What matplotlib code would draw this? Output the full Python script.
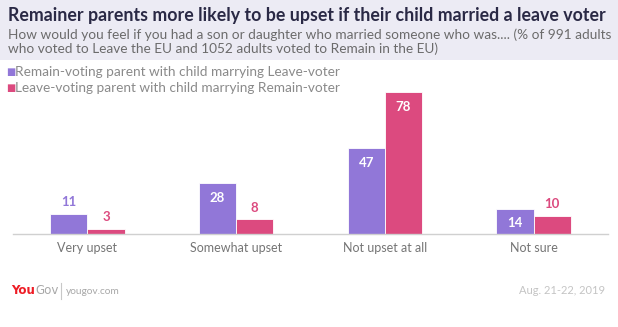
import matplotlib.pyplot as plt
import numpy as np
from matplotlib.patches import Rectangle

categories = ["Very upset", "Somewhat upset", "Not upset at all", "Not sure"]
remain_parent = [11, 28, 47, 14]
leave_parent = [3, 8, 78, 10]
series_names = ["Remain-voting parent with child marrying Leave-voter",
                "Leave-voting parent with child marrying Remain-voter"]

title = "Remainer parents more likely to be upset if their child married a leave voter"
subtitle = ("How would you feel if you had a son or daughter who married someone who was.... (% of 991 adults\n"
            "who voted to Leave the EU and 1052 adults voted to Remain in the EU)")
date_text = "Aug. 21-22, 2019"

PURPLE = "#9177d8"
PINK = "#dc4a7f"
FONT = "Lato"

fig = plt.figure(figsize=(6.18, 3.27), dpi=100)
fig.patch.set_facecolor("white")

# header band
fig.patches.append(Rectangle((0, 1 - 60 / 327), 1, 60 / 327, transform=fig.transFigure,
                             facecolor="#ecebf4", edgecolor="none", zorder=0))
fig.text(8 / 618, 1 - 15 / 327, title, fontsize=12.75, fontweight="bold", color="#2a2945",
         family=FONT, va="center", ha="left")
fig.text(8 / 618, 1 - 42 / 327, subtitle, fontsize=9.8, color="#6b6b6b", family=FONT,
         va="center", ha="left", linespacing=1.1)

ax = fig.add_axes([13 / 618, 1 - 234 / 327, 595 / 618, 0.4731])
x = np.arange(len(categories))
w = 0.25
bars = [
    ax.bar(x - w / 2, remain_parent, w, color=PURPLE, edgecolor="white", linewidth=0.6, label=series_names[0]),
    ax.bar(x + w / 2, leave_parent, w, color=PINK, edgecolor="white", linewidth=0.6, label=series_names[1]),
]
for cont, col in zip(bars, [PURPLE, PINK]):
    for rect in cont:
        v = rect.get_height()
        cx = rect.get_x() + rect.get_width() / 2
        if v >= 12:
            ax.text(cx, v - 8.2, f"{v:g}", ha="center", va="center", color="white",
                    fontsize=9.5, fontweight="bold", family=FONT)
        else:
            ax.text(cx, v + 6.5, f"{v:g}", ha="center", va="center", color=col,
                    fontsize=9.5, fontweight="bold", family=FONT)

ax.set_xlim(-0.5, 3.5)
ax.set_ylim(0, 85)
ax.set_yticks([])
ax.set_xticks(x)
ax.set_xticklabels(categories, fontsize=9.0, color="#757575", family=FONT)
ax.tick_params(axis="x", length=0, pad=6)
for s in ["top", "left", "right"]:
    ax.spines[s].set_visible(False)
ax.spines["bottom"].set_color("#d0d0d0")
ax.spines["bottom"].set_linewidth(1)
ax.set_facecolor("none")

# legend drawn as square markers plus text
for i, (name, col) in enumerate(zip(series_names, [PURPLE, PINK])):
    yy = 1 - (72 + 16 * i) / 327
    fig.text(6 / 618, yy, "\u25a0", fontsize=7, color=col, va="center", ha="left", family="DejaVu Sans")
    fig.text(15 / 618, yy, name, fontsize=9.8, color="#8a8a8a", va="center", ha="left", family=FONT)

# footer
yf = 1 - 291 / 327
t1 = fig.text(11 / 618, yf, "You", fontsize=8.6, fontweight="bold", color="#ee1c25",
              family="DejaVu Sans", va="center", ha="left")
fig.canvas.draw()
bb = t1.get_window_extent()
t2 = fig.text(bb.x1 / 618, yf, "Gov", fontsize=8.6, color="#a8a8a8",
              family="DejaVu Sans", va="center", ha="left")
fig.add_artist(plt.Line2D([61 / 618, 61 / 618], [1 - 283 / 327, 1 - 299 / 327],
                          transform=fig.transFigure, color="#c8c8c8", linewidth=0.8))
fig.text(66 / 618, yf, "yougov.com", fontsize=7.3, color="#a8a8a8", family=FONT,
         va="center", ha="left")
fig.text(605 / 618, yf, date_text, fontsize=8.0, color="#c4c4c4", family=FONT,
         va="center", ha="right")

fig.savefig("out.png", dpi=100)
